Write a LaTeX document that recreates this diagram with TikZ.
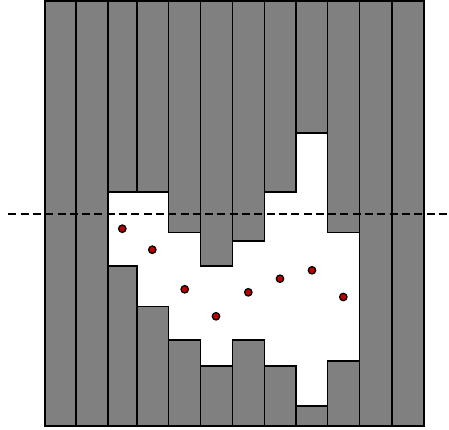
\documentclass[tikz,border=0pt]{standalone}
\definecolor{bargrey}{HTML}{808080}
\definecolor{dotred}{HTML}{C00000}
\tikzset{
  bar/.style={fill=bargrey,draw=black,line width=1.6pt},
  cut/.style={draw=black,line width=1.7pt,dash pattern=on 8pt off 4.3pt},
  pt/.style={circle,fill=dotred,draw=black,line width=1.3pt,minimum size=7.4pt,inner sep=0pt}
}
\begin{document}
\begin{tikzpicture}[x=1pt,y=-1pt]
\useasboundingbox (0,0) rectangle (449,430);
% full columns
\foreach \a/\b in {44.7/76, 76/108, 359.3/391.7, 391.7/424}
  \draw[bar] (\a,1) rectangle (\b,426);
% top columns
\foreach \a/\b/\h in {108/136.7/192, 136.7/168.3/192, 168.3/200.3/232.3, 200.3/232.3/265.7, 232.3/264.3/240.7, 264.3/296/192, 296/327.3/133.3, 327.3/359.3/232.3}
  \draw[bar] (\a,1) rectangle (\b,\h);
% bottom columns
\foreach \a/\b/\h in {108/136.7/265.7, 136.7/168.3/306.3, 168.3/200.3/340, 200.3/232.3/366, 232.3/264.3/340, 264.3/296/366, 296/327.3/405.7, 327.3/359.3/360.7}
  \draw[bar] (\a,\h) rectangle (\b,426);
% dashed line
\coordinate (l) at (8.3,213.7);
\coordinate (r) at (449,213.7);
\draw[cut] (l) -- (r);
% points
\foreach \x/\y [count=\i] in {122.3/228.7, 152.3/249.7, 184.7/289.3, 216/316.3, 248.3/292.3, 280/278.7, 312/270.3, 343.3/297}
  \node[pt] (p\i) at (\x,\y) {};
\end{tikzpicture}
\end{document}
